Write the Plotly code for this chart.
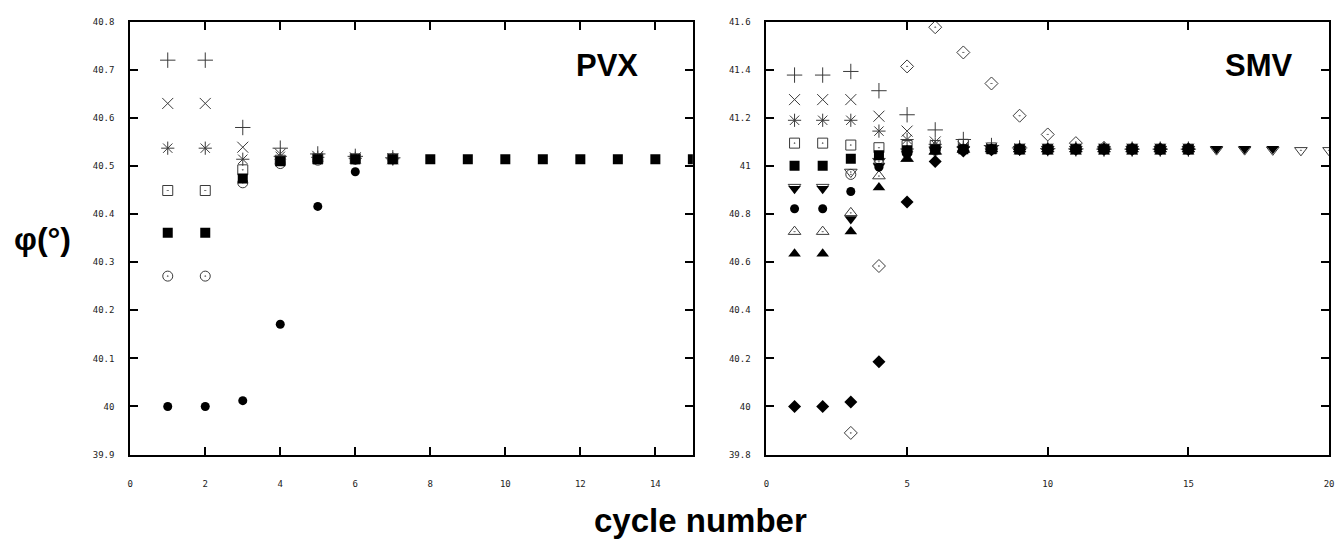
import plotly.graph_objects as go

# ---------------- data: PVX (left panel) ----------------
pvx_x = list(range(1, 16))
pvx_plus      = [40.72, 40.72, 40.58, 40.537, 40.525, 40.52, 40.517]
pvx_cross     = [40.63, 40.63, 40.539, 40.525, 40.52, 40.517, 40.515]
pvx_star      = [40.537, 40.537, 40.514, 40.52, 40.518, 40.516, 40.515]
pvx_osquare   = [40.449, 40.449, 40.492, 40.512, 40.515, 40.515, 40.515]
pvx_ocircle   = [40.271, 40.271, 40.465, 40.505, 40.512, 40.514, 40.515]
pvx_fcircle   = [40.0, 40.0, 40.012, 40.171, 40.416, 40.488, 40.513]
pvx_fsquare   = [40.361, 40.361, 40.474, 40.51, 40.514, 40.514, 40.514, 40.514,
                 40.514, 40.514, 40.514, 40.514, 40.514, 40.514, 40.514]

# ---------------- data: SMV (right panel) ----------------
smv_x = list(range(1, 21))
smv_plus     = [41.378, 41.378, 41.393, 41.313, 41.213, 41.15, 41.11, 41.085, 41.075,
                41.072, 41.071, 41.07, 41.07, 41.07, 41.07]
smv_cross    = [41.276, 41.276, 41.276, 41.207, 41.145, 41.10, 41.08, 41.074, 41.071,
                41.07, 41.07, 41.07, 41.07, 41.07, 41.07]
smv_star     = [41.19, 41.19, 41.19, 41.145, 41.11, 41.09, 41.077, 41.072, 41.07,
                41.07, 41.07, 41.07, 41.07, 41.07, 41.07]
smv_osquare  = [41.095, 41.095, 41.087, 41.076, 41.085, 41.085, 41.09, 41.075, 41.07,
                41.07, 41.07, 41.07, 41.07, 41.07, 41.07]
smv_fsquare  = [41.001, 41.001, 41.03, 41.045, 41.065, 41.07, 41.07, 41.07, 41.07,
                41.07, 41.07, 41.07, 41.07, 41.07, 41.07]
smv_otridown = [40.912, 40.912, 40.975, 41.02, 41.06, 41.068, 41.07, 41.07, 41.07,
                41.07, 41.07, 41.07, 41.07, 41.07, 41.07, 41.068, 41.068, 41.067, 41.065, 41.065]
smv_ocircle  = [None, None, 40.965, 41.01, 41.055, 41.065, 41.07, 41.07, 41.07,
                41.07, 41.07, 41.07, 41.07, 41.07, 41.07]
smv_fcircle  = [40.822, 40.822, 40.894, 40.995, 41.05, 41.065, 41.07, 41.07, 41.07,
                41.07, 41.07, 41.07, 41.07, 41.07, 41.07]
smv_otriup   = [40.727, 40.727, 40.805, 40.958, 41.03, 41.06, 41.068, 41.07, 41.07,
                41.07, 41.07, 41.07, 41.07, 41.07, 41.07]
smv_ftridown = [40.905, 40.905, 40.78, 41.0, 41.05, 41.065, 41.07, 41.07, 41.07,
                41.07, 41.07, 41.07, 41.07, 41.07, 41.07, 41.072, 41.072, 41.072]
smv_ftriup   = [40.635, 40.635, 40.728, 40.911, 41.03, 41.06, 41.068, 41.07, 41.07,
                41.07, 41.07, 41.07, 41.07, 41.07, 41.07]
smv_fdiamond = [40.0, 40.0, 40.019, 40.186, 40.85, 41.019, 41.062, 41.068, 41.07,
                41.07, 41.07, 41.07, 41.07, 41.07, 41.07]
smv_odiamond = [None, None, 39.89, 40.584, 41.414, 41.577, 41.472, 41.343, 41.209,
                41.131, 41.095, 41.075, 41.07, 41.07, 41.07]

# ---------------- ticks ----------------
pvx_xticks = [0, 2, 4, 6, 8, 10, 12, 14]
pvx_yticks = [39.9, 40.0, 40.1, 40.2, 40.3, 40.4, 40.5, 40.6, 40.7, 40.8]
pvx_ytext = ["39.9", "40", "40.1", "40.2", "40.3", "40.4", "40.5", "40.6", "40.7", "40.8"]
smv_xticks = [0, 5, 10, 15, 20]
smv_yticks = [39.8, 40.0, 40.2, 40.4, 40.6, 40.8, 41.0, 41.2, 41.4, 41.6]
smv_ytext = ["39.8", "40", "40.2", "40.4", "40.6", "40.8", "41", "41.2", "41.4", "41.6"]

GRAY = "#3a3a3a"
BLACK = "#000000"
W, H = 1342, 542

fig = go.Figure()


def add(xs, ys, symbol, color, size, axis, lw=1):
    n = len(ys)
    fig.add_trace(go.Scatter(
        x=xs[:n], y=ys, mode="markers",
        xaxis="x" if axis == 1 else "x2",
        yaxis="y" if axis == 1 else "y2",
        marker=dict(symbol=symbol, size=size, color=color,
                    line=dict(color=color, width=lw)),
        showlegend=False, hoverinfo="x+y"))


# PVX
add(pvx_x, pvx_plus, "cross-thin-open", GRAY, 11, 1)
add(pvx_x, pvx_cross, "x-thin-open", GRAY, 11, 1)
add(pvx_x, pvx_star, "asterisk-open", GRAY, 11, 1)
add(pvx_x, pvx_osquare, "square-open-dot", GRAY, 10, 1)
add(pvx_x, pvx_ocircle, "circle-open-dot", GRAY, 10, 1)
add(pvx_x, pvx_fcircle, "circle", BLACK, 9, 1, 0)
add(pvx_x, pvx_fsquare, "square", BLACK, 10, 1, 0)

# SMV
add(smv_x, smv_odiamond, "diamond-open-dot", GRAY, 10, 2)
add(smv_x, smv_plus, "cross-thin-open", GRAY, 11, 2)
add(smv_x, smv_cross, "x-thin-open", GRAY, 11, 2)
add(smv_x, smv_star, "asterisk-open", GRAY, 11, 2)
add(smv_x, smv_osquare, "square-open-dot", GRAY, 10, 2)
add(smv_x, smv_otridown, "triangle-down-open-dot", GRAY, 11, 2)
add(smv_x, smv_ocircle, "circle-open-dot", GRAY, 10, 2)
add(smv_x, smv_otriup, "triangle-up-open-dot", GRAY, 11, 2)
add(smv_x, smv_fsquare, "square", BLACK, 10, 2, 0)
add(smv_x, smv_fcircle, "circle", BLACK, 9, 2, 0)
add(smv_x, smv_ftridown, "triangle-down", BLACK, 11, 2, 0)
add(smv_x, smv_ftriup, "triangle-up", BLACK, 11, 2, 0)
add(smv_x, smv_fdiamond, "diamond", BLACK, 10, 2, 0)

tickfont = dict(family="DejaVu Sans Mono", size=9, color="#222")
common = dict(showline=True, linecolor="black", linewidth=2, mirror="ticks",
              ticks="inside", ticklen=8, tickwidth=2, tickcolor="black",
              showgrid=False, zeroline=False, tickfont=tickfont,
              ticklabeloverflow="allow")

y0, y1 = (H - 458) / H, (H - 17) / H


def ann(text, px, py, size):
    return dict(text=text, x=px / W, y=1 - py / H, xref="paper", yref="paper",
                xanchor="center", yanchor="middle", showarrow=False,
                font=dict(family="Liberation Sans", size=size, color="black"))


fig.update_layout(
    width=W, height=H,
    margin=dict(l=0, r=0, t=0, b=0),
    paper_bgcolor="white", plot_bgcolor="white",
    xaxis=dict(domain=[128 / W, 694 / W], range=[0, 15],
               tickvals=pvx_xticks, ticklabelstandoff=20, anchor="y", **common),
    yaxis=dict(domain=[y0, y1], range=[39.9, 40.8], tickvals=pvx_yticks,
               ticktext=pvx_ytext, ticklabelstandoff=12, anchor="x", **common),
    xaxis2=dict(domain=[768 / W, 1334 / W], range=[0, 20],
                tickvals=smv_xticks, ticklabelstandoff=20, anchor="y2", **common),
    yaxis2=dict(domain=[y0, y1], range=[39.8, 41.6], tickvals=smv_yticks,
                ticktext=smv_ytext, ticklabelstandoff=12, anchor="x2", **common),
    annotations=[
        ann("<b>PVX</b>", 608, 62, 31),
        ann("<b>SMV</b>", 1264, 62, 31),
        ann("<b>φ(°)</b>", 40, 238, 32),
        ann("<b>cycle number</b>", 702, 525, 33),
    ],
)

fig.write_html("out.html")
